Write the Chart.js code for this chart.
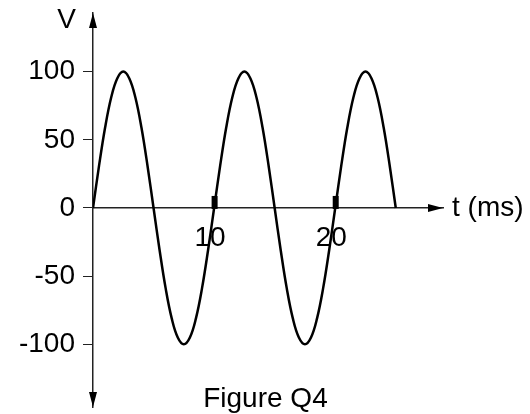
<!DOCTYPE html>
<html>
<head>
<meta charset="utf-8">
<script src="https://cdn.jsdelivr.net/npm/chart.js@4"></script>
<style>
  html, body { margin: 0; padding: 0; background: #fff; }
</style>
</head>
<body>
<canvas id="figQ4" width="530" height="414"></canvas>
<script>
/* tid i ms, avläst var 0,5 ms */
const tid = [0, 0.5, 1, 1.5, 2, 2.5, 3, 3.5, 4, 4.5,
  5, 5.5, 6, 6.5, 7, 7.5, 8, 8.5, 9, 9.5,
  10, 10.5, 11, 11.5, 12, 12.5, 13, 13.5, 14, 14.5,
  15, 15.5, 16, 16.5, 17, 17.5, 18, 18.5, 19, 19.5,
  20, 20.5, 21, 21.5, 22, 22.5, 23, 23.5, 24, 24.5, 25];
/* spänning V */
const spanning = [0, 31, 59, 81, 95, 100, 95, 81, 59, 31,
  0, -31, -59, -81, -95, -100, -95, -81, -59, -31,
  0, 31, 59, 81, 95, 100, 95, 81, 59, 31,
  0, -31, -59, -81, -95, -100, -95, -81, -59, -31,
  0, 31, 59, 81, 95, 100, 95, 81, 59, 31, 0];
const yTicks = [100, 50, 0, -50, -100];
const xTicks = [10, 20];

const font = { family: 'Liberation Sans, Arial, sans-serif', size: 28 };
const axisColor = '#222';

/* ritar pilar, tjocka tickmarkeringar och texter */
const axlar = {
  id: 'axlar',
  afterDraw(chart) {
    const { ctx, chartArea, scales } = chart;
    const x0 = scales.x.getPixelForValue(0);
    const y0 = scales.y.getPixelForValue(0);
    ctx.save();
    ctx.fillStyle = '#000';
    // pil uppåt
    ctx.beginPath();
    ctx.moveTo(x0, chartArea.top);
    ctx.lineTo(x0 - 4, chartArea.top + 15);
    ctx.lineTo(x0 + 4, chartArea.top + 15);
    ctx.closePath();
    ctx.fill();
    // pil nedåt
    ctx.beginPath();
    ctx.moveTo(x0, chartArea.bottom);
    ctx.lineTo(x0 - 4, chartArea.bottom - 15);
    ctx.lineTo(x0 + 4, chartArea.bottom - 15);
    ctx.closePath();
    ctx.fill();
    // pil åt höger
    ctx.beginPath();
    ctx.moveTo(chartArea.right, y0);
    ctx.lineTo(chartArea.right - 15, y0 - 4);
    ctx.lineTo(chartArea.right - 15, y0 + 4);
    ctx.closePath();
    ctx.fill();
    // tjocka tickmarkeringar på t-axeln
    xTicks.forEach((t) => {
      const px = scales.x.getPixelForValue(t);
      ctx.fillRect(px - 2.5, y0 - 12, 6, 13);
    });
    ctx.font = `${font.size}px ${font.family}`;
    ctx.textBaseline = 'middle';
    ctx.textAlign = 'right';
    ctx.fillText('V', x0 - 17, chartArea.top + 7);
    ctx.textAlign = 'left';
    ctx.fillText('t (ms)', chartArea.right + 9, y0);
    ctx.textBaseline = 'alphabetic';
    ctx.fillText('Figure Q4', scales.x.getPixelForValue(9.1), chartArea.bottom);
    ctx.restore();
  }
};

new Chart(document.getElementById('figQ4'), {
  type: 'line',
  data: {
    datasets: [{
      data: tid.map((t, i) => ({ x: t, y: spanning[i] })),
      borderColor: '#000',
      borderWidth: 2.5,
      pointRadius: 0,
      tension: 0.4,
      fill: false
    }]
  },
  options: {
    responsive: false,
    animation: false,
    layout: { padding: { top: 13, right: 87, bottom: 7, left: 0 } },
    plugins: { legend: { display: false }, tooltip: { enabled: false } },
    scales: {
      x: {
        type: 'linear',
        min: 0,
        max: 28.9,
        position: { y: 0 },
        afterFit: (scale) => {
          scale.height = 0;
          scale.paddingLeft = 0;
          scale.paddingRight = 0;
        },
        afterBuildTicks: (scale) => { scale.ticks = xTicks.map((v) => ({ value: v })); },
        grid: { display: false },
        border: { color: axisColor, width: 1.5 },
        ticks: { color: '#000', font, padding: 6, labelOffset: -4, maxRotation: 0 }
      },
      y: {
        type: 'linear',
        min: -146,
        max: 143,
        position: 'left',
        afterFit: (scale) => {
          scale.width = 93;
          scale.paddingTop = 0;
          scale.paddingBottom = 0;
        },
        afterBuildTicks: (scale) => { scale.ticks = yTicks.map((v) => ({ value: v })); },
        grid: { drawOnChartArea: false, drawTicks: true, tickLength: 10, color: axisColor, lineWidth: 1 },
        border: { color: axisColor, width: 1.5 },
        ticks: { color: '#000', font, padding: 8 }
      }
    }
  },
  plugins: [axlar]
});
</script>
</body>
</html>
